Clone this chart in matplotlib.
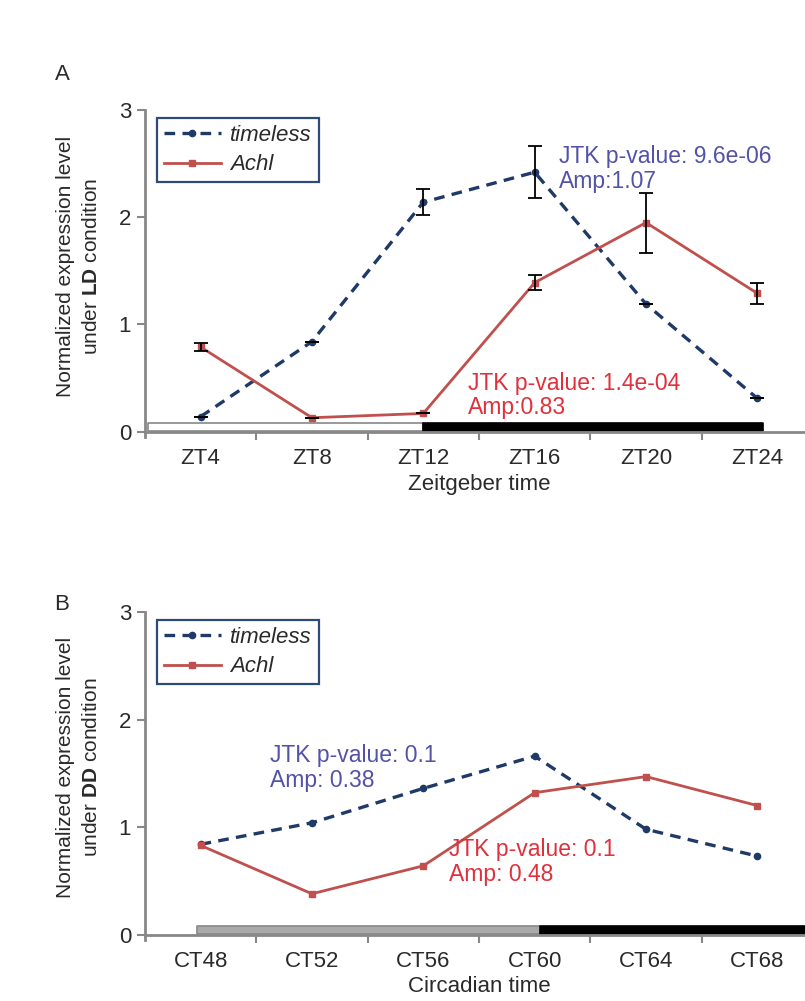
import matplotlib
matplotlib.use("Agg")
import matplotlib.pyplot as plt
import numpy as np

plt.rcParams["font.family"] = ["Liberation Sans", "DejaVu Sans"]
plt.rcParams["mathtext.fontset"] = "custom"
plt.rcParams["mathtext.rm"] = "Liberation Sans"
plt.rcParams["mathtext.bf"] = "Liberation Sans:bold"

# Panel A: LD condition
zt_labels = ["ZT4", "ZT8", "ZT12", "ZT16", "ZT20", "ZT24"]
ld_timeless = [0.14, 0.84, 2.14, 2.42, 1.19, 0.31]
ld_timeless_err = [0.0, 0.0, 0.12, 0.24, 0.0, 0.0]
ld_achl = [0.79, 0.13, 0.17, 1.39, 1.95, 1.29]
ld_achl_err = [0.04, 0.0, 0.0, 0.07, 0.28, 0.10]

# Panel B: DD condition
ct_labels = ["CT48", "CT52", "CT56", "CT60", "CT64", "CT68"]
dd_timeless = [0.84, 1.04, 1.36, 1.66, 0.98, 0.73]
dd_achl = [0.83, 0.38, 0.64, 1.32, 1.47, 1.20]

# light / dark phase bars (start, end) in category units
ld_light = (-0.47, 2.0)
ld_dark = (2.0, 5.05)
dd_light = (-0.03, 3.05)
dd_dark = (3.05, 5.6)

BLUE = "#1f3a66"
RED = "#c0504d"
TXT_BLUE = "#5252a8"
TXT_RED = "#e0303c"
GRAY = "#888888"
DARK = "#2a2a2a"

fig = plt.figure(figsize=(8.05, 10.01), dpi=100)
fig.patch.set_facecolor("white")

# axes bottoms sit 5 px below the zero line so the y spine pokes out a little
ax_a = fig.add_axes([0.180, 0.5634, 0.830, 0.3267])
ax_b = fig.add_axes([0.180, 0.0609, 0.830, 0.3277])


def style_axes(ax, labels, xlabel):
    # spine position first: it resets tick settings
    ax.spines["bottom"].set_position(("data", 0))
    ax.spines["top"].set_visible(False)
    ax.spines["right"].set_visible(False)
    ax.spines["left"].set_color(GRAY)
    ax.spines["bottom"].set_color(GRAY)
    ax.spines["left"].set_linewidth(2)
    ax.spines["bottom"].set_linewidth(2)
    x = np.arange(len(labels))
    ax.set_xlim(-0.5, 5.5)
    ax.set_ylim(-0.05, 3)
    ax.set_xticks(x)
    ax.set_xticklabels(labels, fontsize=16, color=DARK)
    ax.set_xticks(x[:-1] + 0.5, minor=True)
    ax.tick_params(axis="x", which="major", length=0, pad=12)
    ax.tick_params(axis="x", which="minor", length=6, width=1.5, color=GRAY, direction="out")
    ax.set_yticks([0, 1, 2, 3])
    ax.set_yticklabels(["0", "1", "2", "3"], fontsize=16, color=DARK)
    ax.tick_params(axis="y", length=6, width=1.5, color=GRAY, pad=4)
    ax.set_xlabel(xlabel, fontsize=16, color=DARK, labelpad=3)
    ax.set_zorder(1)


def phase_bar(ax, span, color, edge):
    ax.broken_barh([(span[0], span[1] - span[0])], (0.005, 0.08),
                   facecolors=color, edgecolors=edge, linewidth=1.2, zorder=2)


def legend(ax):
    leg = ax.legend(loc="upper left", bbox_to_anchor=(0.018, 0.976), fontsize=16,
                    handlelength=2.6, handletextpad=0.4, borderpad=0.3,
                    labelspacing=0.4, fancybox=False, framealpha=1,
                    borderaxespad=0)
    leg.get_frame().set_edgecolor("#2e4a7a")
    leg.get_frame().set_linewidth(1.6)
    for t in leg.get_texts():
        t.set_fontstyle("italic")
        t.set_color(DARK)


ann = dict(fontsize=16.5, va="top", ha="left", linespacing=1.1)

# ---- Panel A
x = np.arange(len(zt_labels))
phase_bar(ax_a, ld_light, "white", GRAY)
phase_bar(ax_a, ld_dark, "black", "black")
ax_a.plot(x, ld_timeless, color=BLUE, linestyle=(0, (3.2, 2.2)), linewidth=2.4,
          marker="o", markersize=4.5, label="timeless", zorder=3)
ax_a.plot(x, ld_achl, color=RED, linewidth=2.0, marker="s", markersize=5,
          label="Achl", zorder=3)
ax_a.errorbar(x, ld_timeless, yerr=ld_timeless_err, fmt="none", ecolor="black",
              elinewidth=1.3, capsize=5, capthick=1.3, zorder=4)
ax_a.errorbar(x, ld_achl, yerr=ld_achl_err, fmt="none", ecolor="black",
              elinewidth=1.3, capsize=5, capthick=1.3, zorder=4)
style_axes(ax_a, zt_labels, "Zeitgeber time")
legend(ax_a)
ax_a.text(3.22, 2.67, "JTK p-value: 9.6e-06\nAmp:1.07", color=TXT_BLUE, **ann)
ax_a.text(2.4, 0.56, "JTK p-value: 1.4e-04\nAmp:0.83", color=TXT_RED, **ann)

# ---- Panel B
phase_bar(ax_b, dd_light, "#aaaaaa", "#888888")
phase_bar(ax_b, dd_dark, "black", "black")
ax_b.plot(x, dd_timeless, color=BLUE, linestyle=(0, (3.2, 2.2)), linewidth=2.4,
          marker="o", markersize=4.5, label="timeless", zorder=3)
ax_b.plot(x, dd_achl, color=RED, linewidth=2.0, marker="s", markersize=5,
          label="Achl", zorder=3)
style_axes(ax_b, ct_labels, "Circadian time")
legend(ax_b)
ax_b.text(0.62, 1.77, "JTK p-value: 0.1\nAmp: 0.38", color=TXT_BLUE, **ann)
ax_b.text(2.23, 0.9, "JTK p-value: 0.1\nAmp: 0.48", color=TXT_RED, **ann)

# y labels (two lines, second with bold condition)
for ycen, cond in [(266, "LD"), (767, "DD")]:
    fy = 1 - ycen / 1001
    fig.text(66 / 805, fy, "Normalized expression level", rotation=90,
             fontsize=15, color=DARK, ha="center", va="center")
    fig.text(91 / 805, fy, "under $\\mathbf{%s}$ condition" % cond, rotation=90,
             fontsize=15, color=DARK, ha="center", va="center")

# panel letters
fig.text(62 / 805, 1 - 75 / 1001, "A", fontsize=16, color=DARK, ha="center", va="center")
fig.text(62 / 805, 1 - 604 / 1001, "B", fontsize=16, color=DARK, ha="center", va="center")

fig.savefig("out.png", dpi=100, facecolor="white")
